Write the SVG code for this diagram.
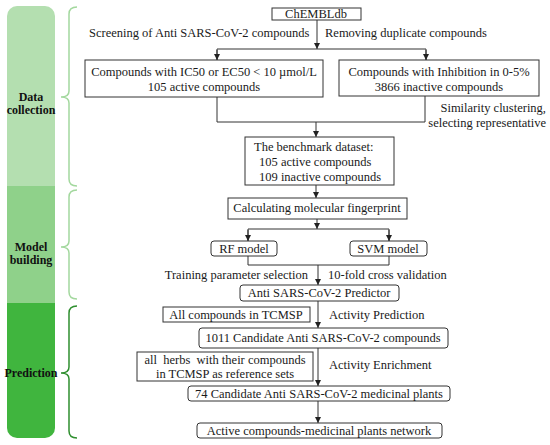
<svg xmlns="http://www.w3.org/2000/svg" width="550" height="445" viewBox="0 0 550 445">
<style>
.t{font-family:"Liberation Serif","Times New Roman",serif;font-size:12.5px;fill:#1a1a1a}
.m{text-anchor:middle}
.e{text-anchor:end}
.lb{font-family:"Liberation Serif","Times New Roman",serif;font-size:12px;font-weight:bold;fill:#111;text-anchor:middle}
.box{fill:#fff;stroke:#333;stroke-width:1}
.c{fill:none;stroke:#333;stroke-width:1}
.br{fill:none;stroke-width:1.5}
</style>
<defs>
<marker id="ah" viewBox="0 0 8 8" refX="8" refY="4" markerWidth="6" markerHeight="6" orient="auto" markerUnits="userSpaceOnUse">
<path d="M0,0 L8,4 L0,8 z" fill="#222"/>
</marker>
<clipPath id="barclip"><rect x="7" y="6" width="48" height="432" rx="10" ry="10"/></clipPath>
</defs>
<rect width="550" height="445" fill="#fff"/>
<g id="bars" clip-path="url(#barclip)">
<rect x="7" y="6" width="48" height="180" fill="#b4dfb0"/>
<rect x="7" y="186" width="48" height="117" fill="#8fd18a"/>
<rect x="7" y="303" width="48" height="135" fill="#40b53e"/>
</g>
<g id="section-labels">
<text class="lb" x="31" y="101">Data</text>
<text class="lb" x="31" y="114">collection</text>
<text class="lb" x="31" y="251">Model</text>
<text class="lb" x="31" y="264">building</text>
<text class="lb" x="31" y="377">Prediction</text>
</g>
<g id="braces">
<path class="br" stroke="#a3d89e" d="M77,7 Q69,7 69,14 L69,91 Q69,97 61,97 Q69,97 69,103 L69,179 Q69,186 77,186"/>
<path class="br" stroke="#a3d89e" d="M77,190 Q69,190 69,197 L69,241 Q69,247 61,247 Q69,247 69,253 L69,292 Q69,299 77,299"/>
<path class="br" stroke="#2f8f2f" d="M77,306 Q69,306 69,313 L69,367 Q69,373 61,373 Q69,373 69,379 L69,431 Q69,438 77,438"/>
</g>
<g id="connectors">
<line class="c" x1="317" y1="20" x2="317" y2="49" marker-end="url(#ah)"/>
<polyline class="c" points="217,60 217,49 426,49 426,60"/>
<line class="c" x1="217" y1="50" x2="217" y2="60" marker-end="url(#ah)"/>
<line class="c" x1="426" y1="50" x2="426" y2="60" marker-end="url(#ah)"/>
<polyline class="c" points="217,97 217,122 425,122 425,96"/>
<line class="c" x1="316" y1="122" x2="316" y2="137" marker-end="url(#ah)"/>
<line class="c" x1="316" y1="185" x2="316" y2="198" marker-end="url(#ah)"/>
<line class="c" x1="317" y1="219" x2="317" y2="229" marker-end="url(#ah)"/>
<polyline class="c" points="248,241 248,229 389,229 389,241"/>
<line class="c" x1="248" y1="230" x2="248" y2="241" marker-end="url(#ah)"/>
<line class="c" x1="389" y1="230" x2="389" y2="241" marker-end="url(#ah)"/>
<polyline class="c" points="248,256 248,265 389,265 389,256"/>
<line class="c" x1="318" y1="265" x2="318" y2="285" marker-end="url(#ah)"/>
<line class="c" x1="318" y1="301" x2="318" y2="328" marker-end="url(#ah)"/>
<line class="c" x1="318" y1="348" x2="318" y2="386" marker-end="url(#ah)"/>
<line class="c" x1="318" y1="401" x2="318" y2="423" marker-end="url(#ah)"/>
</g>
<g id="edge-labels">
<text class="t" x="89" y="37">Screening of Anti SARS-CoV-2 compounds</text>
<text class="t" x="325" y="37">Removing duplicate compounds</text>
<text class="t e" x="546" y="112">Similarity clustering,</text>
<text class="t e" x="546" y="127">selecting representative</text>
<text class="t e" x="308" y="279">Training parameter selection</text>
<text class="t" x="328" y="279">10-fold cross validation</text>
<text class="t" x="329" y="319">Activity Prediction</text>
<text class="t" x="329" y="369">Activity Enrichment</text>
</g>
<g id="n-chembl">
<rect class="box" x="272" y="8" width="89" height="12"/>
<text class="t m" x="316" y="18">ChEMBLdb</text>
</g>
<g id="n-active">
<rect class="box" x="85" y="60" width="238" height="37"/>
<text class="t m" x="204" y="76">Compounds with IC50 or EC50 &lt; 10 µmol/L</text>
<text class="t m" x="204" y="91">105 active compounds</text>
</g>
<g id="n-inactive">
<rect class="box" x="339" y="60" width="200" height="36"/>
<text class="t m" x="439" y="76">Compounds with Inhibition in 0-5%</text>
<text class="t m" x="439" y="91">3866 inactive compounds</text>
</g>
<g id="n-benchmark">
<rect class="box" x="245" y="137" width="149" height="48"/>
<text class="t" x="254" y="151">The benchmark dataset:</text>
<text class="t" x="259" y="166">105 active compounds</text>
<text class="t" x="259" y="181">109 inactive compounds</text>
</g>
<g id="n-fingerprint">
<rect class="box" x="228" y="198" width="179" height="21"/>
<text class="t m" x="317" y="212">Calculating molecular fingerprint</text>
</g>
<g id="n-rf">
<rect class="box" x="211" y="241" width="66" height="15" rx="3"/>
<text class="t m" x="244" y="253">RF model</text>
</g>
<g id="n-svm">
<rect class="box" x="350" y="241" width="77" height="15" rx="3"/>
<text class="t m" x="388" y="253">SVM model</text>
</g>
<g id="n-predictor">
<rect class="box" x="240" y="285" width="159" height="16" rx="3"/>
<text class="t m" x="319" y="297">Anti SARS-CoV-2 Predictor</text>
</g>
<g id="n-tcmsp">
<rect class="box" x="163" y="307" width="147" height="15"/>
<text class="t m" x="236" y="319">All compounds in TCMSP</text>
</g>
<g id="n-1011">
<rect class="box" x="199" y="328" width="249" height="20" rx="3"/>
<text class="t m" x="323" y="342">1011 Candidate Anti SARS-CoV-2 compounds</text>
</g>
<g id="n-herbs">
<rect class="box" x="137" y="352" width="176" height="29"/>
<text class="t m" x="225" y="364" xml:space="preserve">all  herbs  with their compounds</text>
<text class="t m" x="225" y="378">in TCMSP as reference sets</text>
</g>
<g id="n-74">
<rect class="box" x="188" y="386" width="262" height="15" rx="3"/>
<text class="t m" x="319" y="398">74 Candidate Anti SARS-CoV-2 medicinal plants</text>
</g>
<g id="n-network">
<rect class="box" x="197" y="423" width="245" height="15" rx="3"/>
<text class="t m" x="319" y="435">Active compounds-medicinal plants network</text>
</g>
</svg>
